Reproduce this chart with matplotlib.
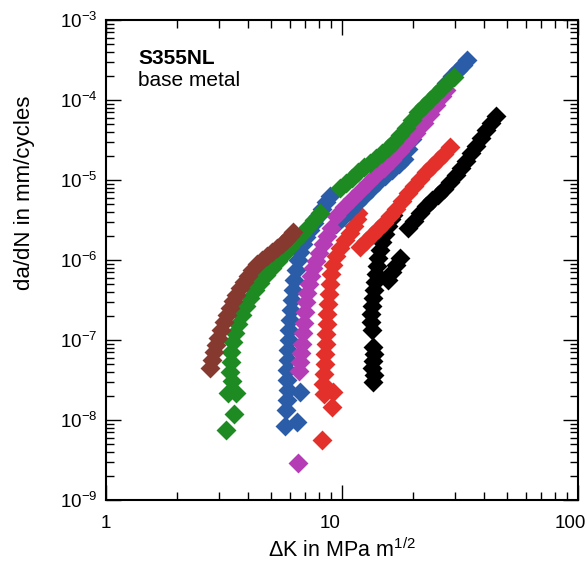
import numpy as np
import matplotlib
matplotlib.use("Agg")
import matplotlib.pyplot as plt
from matplotlib.ticker import LogLocator, NullFormatter, FixedLocator, FixedFormatter, LogFormatterSciNotation
from matplotlib.transforms import ScaledTranslation

####################################################
### Crack growth data, S355NL base metal

brown_dK = [2.76, 2.81, 2.87, 2.93, 2.98, 3.07, 3.16, 3.26, 3.35, 3.45, 3.56, 3.70,
            3.84, 4.00, 4.16, 4.36, 4.58, 4.81, 5.05, 5.30, 5.57, 5.79, 6.02, 6.20]
brown_dadN = [4.5e-8, 5.6e-8, 7.1e-8, 8.7e-8, 1.06e-7, 1.33e-7, 1.68e-7, 2.05e-7, 2.5e-7,
              3.07e-7, 3.65e-7, 4.5e-7, 5.3e-7, 6.3e-7, 7.5e-7, 8.9e-7, 1.0e-6, 1.12e-6,
              1.26e-6, 1.41e-6, 1.58e-6, 1.78e-6, 2.0e-6, 2.24e-6]

green_dK = [3.23, 3.49, 3.29, 3.56, 3.42, 3.35, 3.39, 3.39, 3.45, 3.52, 3.63, 3.77,
            3.92, 4.08, 4.28, 4.49, 4.76, 5.05, 5.36, 5.68, 6.02, 6.39, 6.77, 7.18,
            7.61, 8.07, 9.81, 10.4, 11.0, 11.7, 12.4, 13.1, 13.9, 14.8, 15.7, 16.6,
            17.6, 18.7, 19.8, 21.0, 22.3, 23.6, 25.0, 26.5, 28.1, 29.8]
green_dadN = [7.5e-9, 1.19e-8, 2.18e-8, 2.18e-8, 3.07e-8, 3.98e-8, 5.31e-8, 7.08e-8,
              9.44e-8, 1.22e-7, 1.58e-7, 2.05e-7, 2.66e-7, 3.35e-7, 4.22e-7, 5.16e-7,
              6.49e-7, 7.94e-7, 9.72e-7, 1.19e-6, 1.45e-6, 1.78e-6, 2.11e-6, 2.58e-6,
              3.16e-6, 3.87e-6, 7.94e-6, 9.17e-6, 1.06e-5, 1.26e-5, 1.45e-5, 1.63e-5,
              1.88e-5, 2.18e-5, 2.51e-5, 2.99e-5, 3.65e-5, 4.47e-5, 5.62e-5, 7.08e-5,
              8.41e-5, 1.0e-4, 1.19e-4, 1.41e-4, 1.68e-4, 1.94e-4]

blue_dK = [5.73, 6.45, 5.79, 6.64, 5.85, 5.90, 5.85, 5.85, 5.90, 5.90, 5.96, 5.96,
           6.02, 6.08, 6.14, 6.20, 6.26, 6.38, 6.51, 6.64, 6.83, 7.04, 7.32, 7.61,
           7.91, 8.23, 8.55, 8.90, 9.43, 10.1, 10.81, 11.58, 12.39, 13.27, 14.21,
           15.21, 16.29, 17.44, 18.31, 19.04, 19.80, 20.79, 22.04, 23.14, 24.54,
           26.02, 27.59, 29.25, 31.01, 32.56, 33.86]
blue_dadN = [8.41e-9, 9.44e-9, 1.33e-8, 2.24e-8, 1.78e-8, 2.37e-8, 3.16e-8, 4.22e-8,
             5.62e-8, 7.5e-8, 1.0e-7, 1.33e-7, 1.78e-7, 2.37e-7, 3.16e-7, 4.22e-7,
             5.62e-7, 7.5e-7, 1.0e-6, 1.26e-6, 1.58e-6, 1.94e-6, 2.37e-6, 2.90e-6,
             3.55e-6, 4.34e-6, 5.31e-6, 6.31e-6, 2.82e-6, 3.45e-6, 4.22e-6, 5.16e-6,
             6.31e-6, 7.72e-6, 9.44e-6, 1.12e-5, 1.33e-5, 1.58e-5, 1.83e-5, 2.44e-5,
             3.25e-5, 4.34e-5, 5.79e-5, 7.94e-5, 1.03e-4, 1.30e-4, 1.63e-4, 2.0e-4,
             2.37e-4, 2.74e-4, 3.16e-4]

magenta_dK = [6.51, 6.57, 6.64, 6.70, 6.77, 6.83, 6.90, 6.97, 7.04, 7.11, 7.25, 7.39,
              7.54, 7.76, 7.99, 8.31, 8.64, 8.98, 9.43, 10.20, 11.03, 11.92, 12.89,
              13.94, 15.07, 16.29, 17.61, 19.04, 20.59, 22.26, 23.60, 25.02, 26.53, 27.59]
magenta_dadN = [2.90e-9, 4.10e-8, 5.31e-8, 6.88e-8, 8.91e-8, 1.22e-7, 1.63e-7, 2.24e-7,
                2.99e-7, 3.87e-7, 5.01e-7, 6.31e-7, 7.94e-7, 9.72e-7, 1.22e-6, 1.58e-6,
                2.0e-6, 2.51e-6, 3.55e-6, 4.60e-6, 5.79e-6, 7.29e-6, 9.17e-6, 1.15e-5,
                1.41e-5, 1.78e-5, 2.30e-5, 2.99e-5, 3.87e-5, 5.16e-5, 6.68e-5, 8.66e-5,
                1.12e-4, 1.33e-4]

red_dK = [8.23, 9.07, 8.39, 9.16, 8.31, 8.39, 8.47, 8.47, 8.55, 8.55, 8.64, 8.64,
          8.72, 8.81, 8.90, 8.98, 9.16, 9.43, 9.81, 10.30, 10.81, 11.24, 11.58, 11.69,
          11.92, 12.64, 13.40, 14.21, 15.07, 15.97, 16.94, 17.96, 19.04, 20.19, 21.41,
          22.70, 24.07, 25.52, 27.06, 28.69]
red_dadN = [5.62e-9, 1.45e-8, 2.11e-8, 2.24e-8, 2.82e-8, 3.76e-8, 5.01e-8, 6.68e-8,
            8.91e-8, 1.19e-7, 1.58e-7, 2.11e-7, 2.82e-7, 3.76e-7, 5.01e-7, 6.68e-7,
            8.66e-7, 1.12e-6, 1.41e-6, 1.78e-6, 2.18e-6, 2.66e-6, 3.25e-6, 3.87e-6,
            1.45e-6, 1.73e-6, 2.05e-6, 2.44e-6, 2.90e-6, 3.55e-6, 4.34e-6, 5.46e-6,
            6.88e-6, 8.41e-6, 1.03e-5, 1.26e-5, 1.50e-5, 1.78e-5, 2.11e-5, 2.58e-5]

black_dK = [13.53, 13.66, 13.40, 13.53, 13.66, 13.53, 13.40, 13.27, 13.27, 13.40, 13.53,
            13.66, 13.80, 13.93, 14.07, 14.21, 14.49, 14.78, 15.21, 15.67, 16.13, 16.45,
            15.67, 16.29, 16.94, 17.61,
            19.04, 20.19, 21.41, 22.70, 24.07, 25.52, 27.06, 28.69, 30.42, 31.94, 33.54,
            35.21, 36.97, 38.82, 40.76, 42.80, 44.94]
black_dadN = [2.99e-8, 3.65e-8, 4.47e-8, 5.46e-8, 6.68e-8, 8.18e-8, 1.33e-7, 1.68e-7,
              2.11e-7, 2.66e-7, 3.35e-7, 4.22e-7, 5.31e-7, 6.68e-7, 8.41e-7, 1.06e-6,
              1.33e-6, 1.68e-6, 2.11e-6, 2.66e-6, 3.25e-6, 3.65e-6,
              5.62e-7, 7.08e-7, 8.66e-7, 1.06e-6,
              2.51e-6, 3.07e-6, 3.87e-6, 4.73e-6, 5.62e-6, 6.49e-6, 7.72e-6, 9.44e-6,
              1.15e-5, 1.41e-5, 1.73e-5, 2.18e-5, 2.66e-5, 3.35e-5, 4.22e-5, 5.16e-5,
              6.31e-5]

# drawn back to front
series = [
    (black_dK, black_dadN, "#000000"),
    (red_dK, red_dadN, "#e3302a"),
    (blue_dK, blue_dadN, "#2b5ca8"),
    (magenta_dK, magenta_dadN, "#b43cb4"),
    (green_dK, green_dadN, "#1d8a22"),
    (brown_dK, brown_dadN, "#85392f"),
]

####################################################
### Plot

matplotlib.rcParams['font.family'] = "Liberation Sans"
matplotlib.rcParams['mathtext.fontset'] = "custom"
matplotlib.rcParams['mathtext.rm'] = "Liberation Sans"
matplotlib.rcParams['mathtext.default'] = "regular"

fig = plt.figure(figsize=(5.87, 5.70), dpi=100)
ax = fig.add_axes([0.1806, 0.1228, 0.8041, 0.8421])

for dK, dadN, col in series:
    ax.plot(dK, dadN, linestyle='none', marker='D', markersize=8.5,
            markerfacecolor=col, markeredgecolor=col, markeredgewidth=2)

ax.set_xscale('log')
ax.set_yscale('log')
ax.set_xlim(1, 100)
ax.set_ylim(1e-9, 1e-3)

ax.xaxis.set_major_locator(FixedLocator([1, 10, 100]))
ax.xaxis.set_major_formatter(FixedFormatter(['1', '10', '100']))
ax.xaxis.set_minor_locator(LogLocator(base=10, subs=np.arange(2, 10)))
ax.xaxis.set_minor_formatter(NullFormatter())
ax.yaxis.set_major_locator(LogLocator(base=10, numticks=10))
ax.yaxis.set_major_formatter(LogFormatterSciNotation())
ax.yaxis.set_minor_locator(LogLocator(base=10, subs=np.arange(2, 10), numticks=10))
ax.yaxis.set_minor_formatter(NullFormatter())

ax.tick_params(which='both', direction='in', top=True, right=True, width=1.0)
ax.tick_params(which='major', length=11, labelsize=13.5)
ax.tick_params(which='minor', length=6)
ax.tick_params(axis='x', which='major', pad=11)
ax.tick_params(axis='y', which='major', pad=6)

for s in ax.spines.values():
    s.set_linewidth(1.5)

ax.set_xlabel(r"ΔK in MPa m$^{1/2}$", fontsize=15.5)
ax.set_ylabel("da/dN in mm/cycles", fontsize=16)
ax.xaxis.set_label_coords(0.5, -0.08)
ax.yaxis.set_label_coords(-0.15, 0.64)

# nudge the 10 and 100 labels to the left
fig.canvas.draw()
xlabels = ax.get_xticklabels()
for lab, dx in zip(xlabels, [0, -12, -8]):
    lab.set_transform(lab.get_transform() + ScaledTranslation(dx / 100.0, 0, fig.dpi_scale_trans))

ax.text(0.068, 0.94, "S355NL", transform=ax.transAxes, fontsize=15,
        fontweight='bold', va='top', ha='left')
ax.text(0.068, 0.893, "base metal", transform=ax.transAxes, fontsize=15,
        va='top', ha='left')

fig.savefig('out.png', dpi=100)
